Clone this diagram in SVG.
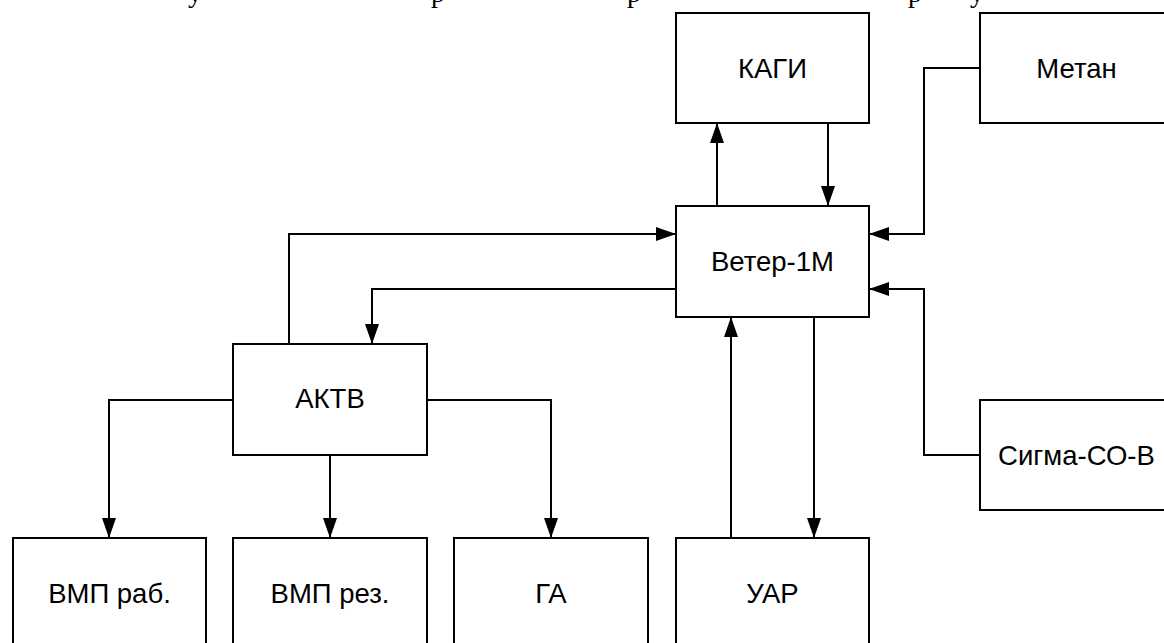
<svg xmlns="http://www.w3.org/2000/svg" width="1164" height="643" viewBox="0 0 1164 643">
<style>
.box{fill:#fff;stroke:#000;stroke-width:2}
.lbl{font-family:"Liberation Sans",Arial,sans-serif;font-size:27.5px;fill:#000;text-anchor:middle}
.frag{font-family:"Liberation Serif","Times New Roman",serif;font-size:28px;fill:#000}
.c{fill:none;stroke:#000;stroke-width:2}
</style>
<defs>
<marker id="arr" markerUnits="userSpaceOnUse" markerWidth="20" markerHeight="14" refX="20" refY="7" orient="auto">
<path d="M0,0 L20,7 L0,14 z" fill="#000"/>
</marker>
</defs>
<rect width="1164" height="643" fill="#fff"/>
<g id="heading-fragments">
<text class="frag" x="188" y="2">у</text>
<text class="frag" x="431" y="2">р</text>
<text class="frag" x="627" y="2">р</text>
<text class="frag" x="908" y="2">р</text>
<text class="frag" x="970" y="2">у</text>
</g>
<g id="connectors">
<path class="c" d="M717 206 V123" marker-end="url(#arr)"/>
<path class="c" d="M828 123 V206" marker-end="url(#arr)"/>
<path class="c" d="M980 68 H924 V234 H869" marker-end="url(#arr)"/>
<path class="c" d="M289 344 V234 H676" marker-end="url(#arr)"/>
<path class="c" d="M676 289 H372 V344" marker-end="url(#arr)"/>
<path class="c" d="M980 455 H924 V289 H869" marker-end="url(#arr)"/>
<path class="c" d="M731 538 V317" marker-end="url(#arr)"/>
<path class="c" d="M814 317 V538" marker-end="url(#arr)"/>
<path class="c" d="M233 400 H109 V538" marker-end="url(#arr)"/>
<path class="c" d="M330 455 V538" marker-end="url(#arr)"/>
<path class="c" d="M427 400 H551 V538" marker-end="url(#arr)"/>
</g>
<g id="kagi"><rect class="box" x="676" y="13" width="193" height="110"/><text class="lbl" x="772.5" y="78">КАГИ</text></g>
<g id="metan"><rect class="box" x="980" y="13" width="193" height="110"/><text class="lbl" x="1076.5" y="78">Метан</text></g>
<g id="veter"><rect class="box" x="676" y="206" width="193" height="111"/><text class="lbl" x="772.5" y="271">Ветер-1М</text></g>
<g id="aktv"><rect class="box" x="233" y="344" width="194" height="111"/><text class="lbl" x="330" y="408">АКТВ</text></g>
<g id="sigma"><rect class="box" x="980" y="400" width="193" height="110"/><text class="lbl" x="1076.5" y="465">Сигма-СО-В</text></g>
<g id="vmp-rab"><rect class="box" x="13" y="538" width="193" height="110"/><text class="lbl" x="109.5" y="603">ВМП раб.</text></g>
<g id="vmp-rez"><rect class="box" x="233" y="538" width="194" height="110"/><text class="lbl" x="330" y="603">ВМП рез.</text></g>
<g id="ga"><rect class="box" x="454" y="538" width="194" height="110"/><text class="lbl" x="551" y="603">ГА</text></g>
<g id="uar"><rect class="box" x="676" y="538" width="193" height="110"/><text class="lbl" x="772.5" y="603">УАР</text></g>
</svg>
